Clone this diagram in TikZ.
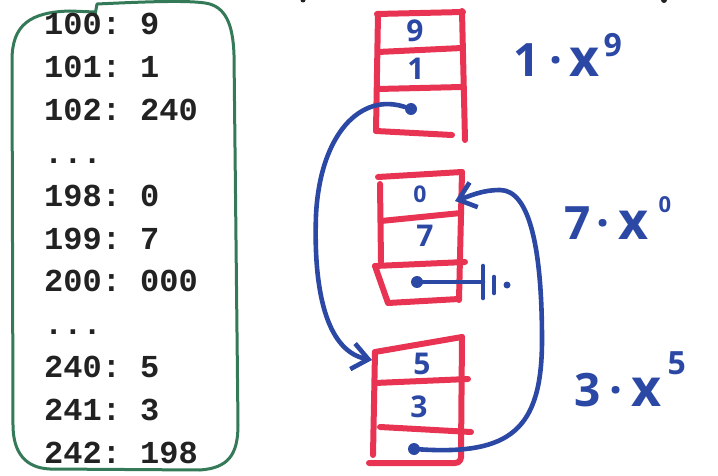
\documentclass[tikz,border=0pt]{standalone}
\usepackage{fontspec}
\setmonofont{Liberation Mono}
\newfontfamily\handfont{Open Sans}
\usetikzlibrary{arrows.meta}
\definecolor{inkred}{RGB}{232,52,82}
\definecolor{inkblue}{RGB}{44,72,165}
\definecolor{inkgreen}{RGB}{52,122,88}
\definecolor{typeink}{RGB}{34,34,34}
\begin{document}
\begin{tikzpicture}[x=1pt,y=-1pt,
  mem/.style={anchor=base west, inner sep=0pt, text=typeink,
    font=\ttfamily\bfseries\fontsize{32}{32}\selectfont},
  cellbox/.style={draw=inkred, line width=6pt, line cap=round, line join=round},
  pen/.style={draw=inkblue, line width=4.6pt, line cap=round, line join=round},
  digit/.style={text=inkblue, inner sep=0pt, font=\handfont\bfseries\fontsize{30}{30}\selectfont},
  lbl/.style={text=inkblue, inner sep=0pt, anchor=base west,
    font=\handfont\bfseries\fontsize{46}{46}\selectfont},
  dotnode/.style={circle, fill=inkblue, inner sep=0pt, minimum size=12pt},
  barb/.style={-{Straight Barb[length=16pt,width=26pt,line width=4.6pt]}}
]
\useasboundingbox (0,0) rectangle (718,476);

% memory listing
\draw[inkgreen, line width=3pt, line join=round, line cap=round]
  (95,15) -- (97,4)
  .. controls (140,2) and (185,0) .. (205,3)
  .. controls (226,6) and (233,25) .. (234,55)
  -- (238,425)
  .. controls (238,455) and (228,468) .. (200,470)
  -- (50,469)
  .. controls (25,468) and (13,452) .. (13,425)
  -- (12,60)
  .. controls (12,25) and (30,12) .. (70,11)
  -- (95,12);

\node[mem] (m1)  at (44,35)    {100: 9};
\node[mem] (m2)  at (44,77.8)  {101: 1};
\node[mem] (m3)  at (44,120.6) {102: 240};
\node[mem] (m4)  at (44,163.4) {...};
\node[mem] (m5)  at (44,206.2) {198: 0};
\node[mem] (m6)  at (44,249)   {199: 7};
\node[mem] (m7)  at (44,291.8) {200: 000};
\node[mem] (m8)  at (44,334.6) {...};
\node[mem] (m9)  at (44,377.4) {240: 5};
\node[mem] (m10) at (44,420.2) {241: 3};
\node[mem] (m11) at (44,463)   {242: 198};

% cell block at 100
\draw[cellbox] (377,14) -- (463,12);
\draw[cellbox] (378,14) -- (376,131);
\draw[cellbox] (462,11) -- (465,140);
\draw[cellbox] (378,52) -- (462,48);
\draw[cellbox] (378,89) -- (462,87);
\draw[cellbox] (376,131) -- (452,135);
\node[digit] (a1) at (415,31) {9};
\node[digit] (a2) at (416,69) {1};
\node[dotnode] (a3) at (411,109) {};

% cell block at 198
\draw[cellbox] (378,177) -- (462,172);
\draw[cellbox] (380,184) -- (381,262);
\draw[cellbox] (462,172) -- (459,300);
\draw[cellbox] (381,221) -- (461,213);
\draw[cellbox] (375,266) -- (465,262);
\draw[cellbox] (375,266) -- (388,303) -- (459,299);
\node[digit, font=\handfont\bfseries\fontsize{23}{23}\selectfont] (b1) at (420,194) {0};
\node[digit] (b2) at (425,236) {7};
\node[dotnode] (b3) at (417,282) {};

% null end of the list
\coordinate (nl) at (483,282);
\draw[pen] (b3) -- (nl);
\draw[pen] (483,266) -- (483,298);
\draw[pen] (494,277) -- (494,293);
\fill[inkblue] (507,285) circle (3.5);

% cell block at 240
\draw[cellbox] (375,352) -- (462,337);
\draw[cellbox] (375,352) -- (373,455);
\draw[cellbox] (462,337) -- (461,452);
\draw[cellbox] (375,383) -- (468,379);
\draw[cellbox] (380,427) -- (471,432);
\draw[cellbox] (369,463) -- (455,463) .. controls (460,463) and (462,459) .. (461,452);
\node[digit] (c1) at (422,364) {5};
\node[digit] (c2) at (419,407) {3};
\node[dotnode] (c3) at (414,449) {};

% links between blocks
\coordinate (tipC) at (372,360);
\coordinate (tipB) at (455,201);
\draw[pen, barb] (a3) .. controls (360,92) and (320,135) .. (316,215)
  .. controls (313,300) and (330,352) .. (tipC);
\draw[pen, barb] (c3) .. controls (510,455) and (542,430) .. (542,340)
  .. controls (542,250) and (530,190) .. (500,190)
  .. controls (482,190) and (470,196) .. (tipB);

% terms of the polynomial
\node[lbl] (t1) at (513,77) {1\hspace{10pt}·\hspace{7pt}{\fontsize{52}{52}\selectfont x}\hspace{4pt}\raisebox{20pt}{\fontsize{32}{32}\selectfont 9}};
\node[lbl] (t2) at (564,240) {7\hspace{6pt}·\hspace{9pt}{\fontsize{52}{52}\selectfont x}\hspace{10pt}\raisebox{28pt}{\fontsize{22}{22}\selectfont 0}};
\node[lbl] (t3) at (574,406) {3\hspace{9pt}·\hspace{9pt}{\fontsize{52}{52}\selectfont x}\hspace{6pt}\raisebox{32pt}{\fontsize{32}{32}\selectfont 5}};

% ink specks on the upper edge
\fill[typeink] (303,0) circle (2.5);
\fill[typeink] (664,0) circle (3);
\end{tikzpicture}
\end{document}
